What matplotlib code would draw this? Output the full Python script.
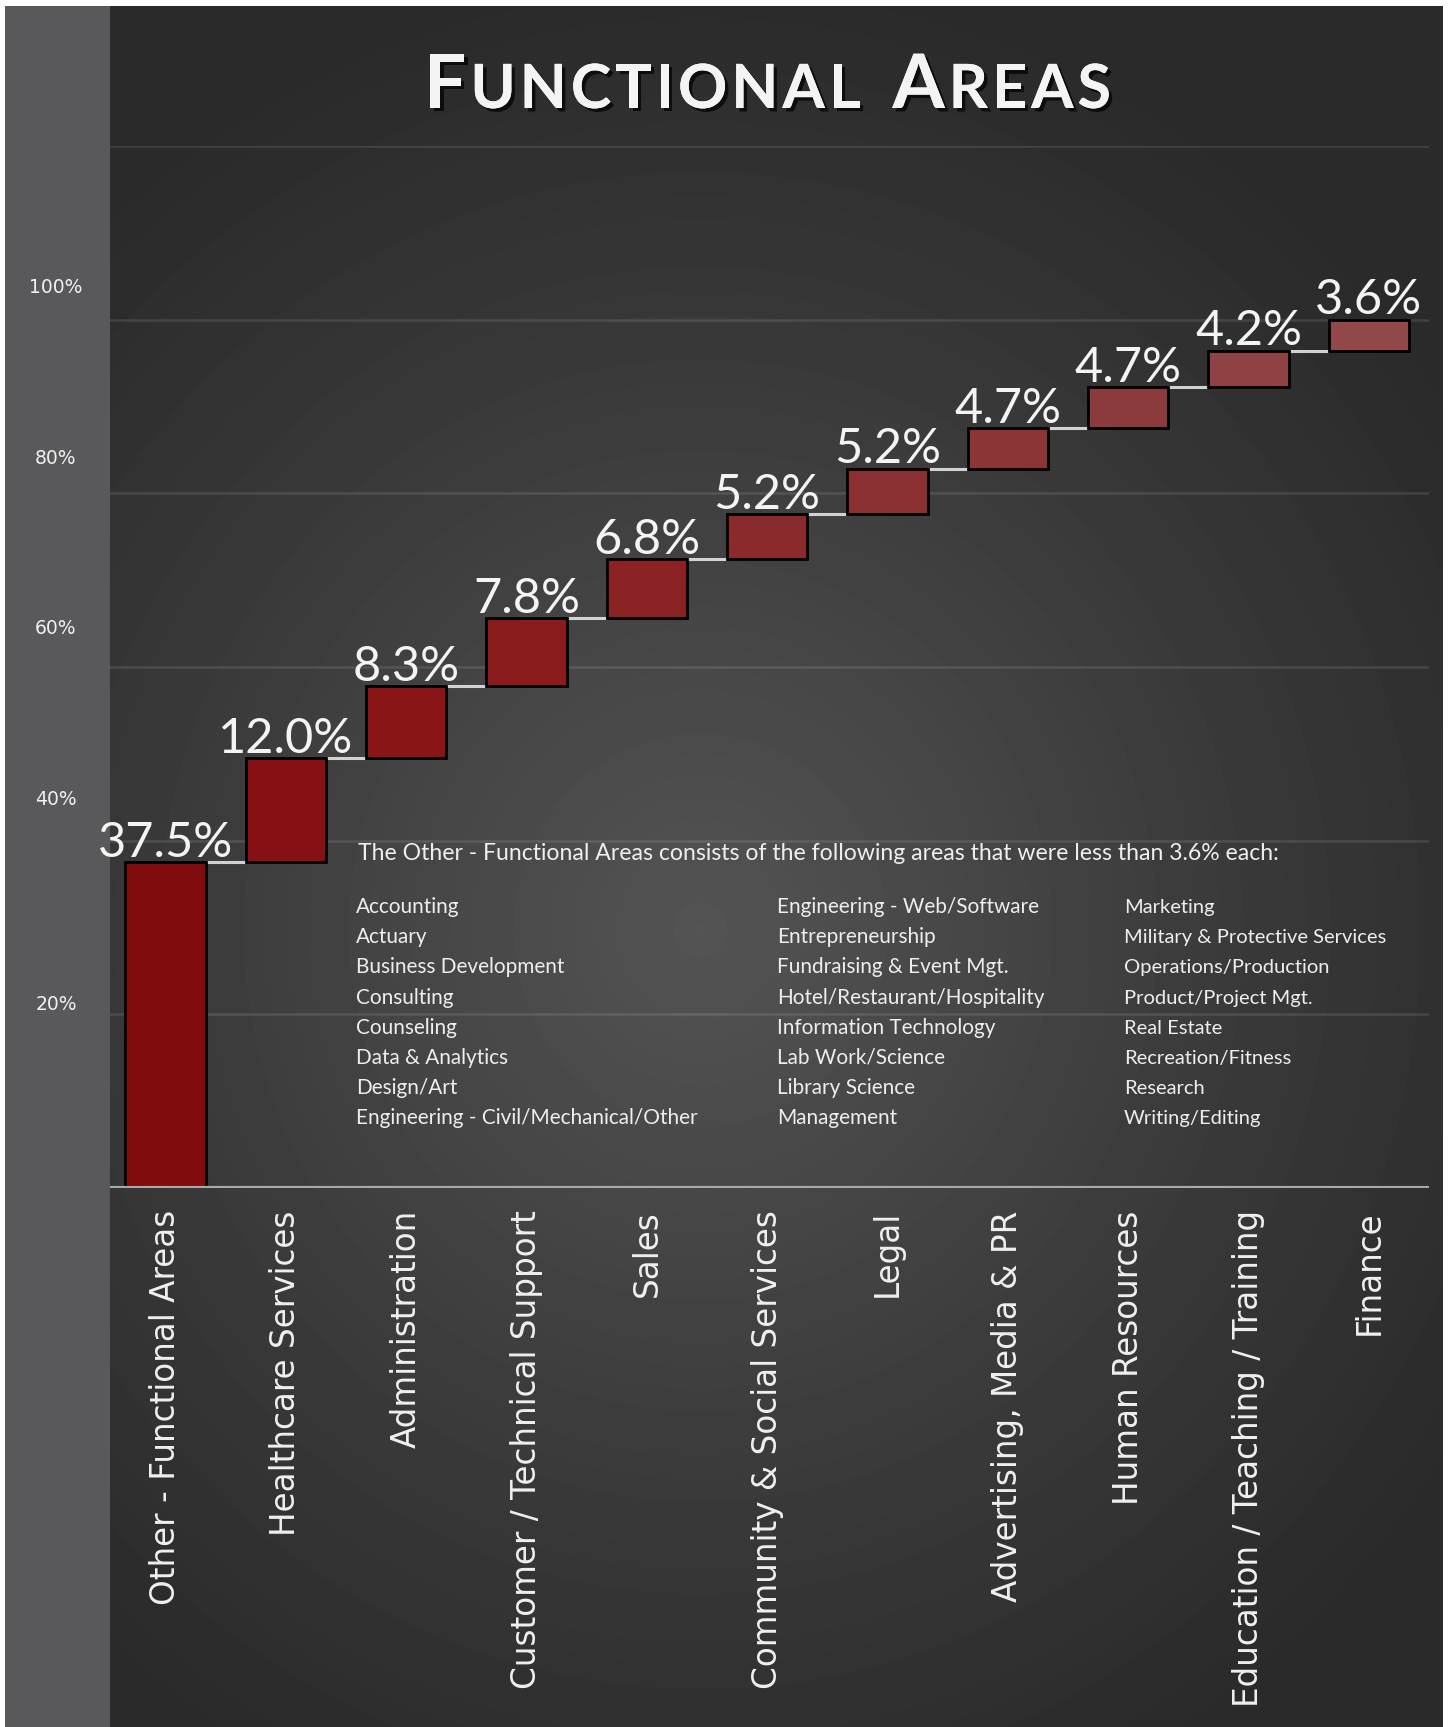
import matplotlib
matplotlib.use("Agg")
import matplotlib.pyplot as plt
import matplotlib.patheffects as pe
from matplotlib.patches import Rectangle
from matplotlib.transforms import blended_transform_factory
import numpy as np

# data
categories = ['Other - Functional Areas', 'Healthcare Services', 'Administration',
              'Customer / Technical Support', 'Sales', 'Community & Social Services',
              'Legal', 'Advertising, Media & PR', 'Human Resources',
              'Education / Teaching / Training', 'Finance']
shares = [37.5, 12.0, 8.3, 7.8, 6.8, 5.2, 5.2, 4.7, 4.7, 4.2, 3.6]
y_ticks = [20, 40, 60, 80, 100]
y_tick_labels = ['20%', '40%', '60%', '80%', '100%']

note_header = 'The Other - Functional Areas consists of the following areas that were less than 3.6% each:'
other_col1 = ['Accounting', 'Actuary', 'Business Development', 'Consulting', 'Counseling',
              'Data & Analytics', 'Design/Art', 'Engineering - Civil/Mechanical/Other']
other_col2 = ['Engineering - Web/Software', 'Entrepreneurship', 'Fundraising & Event Mgt.',
              'Hotel/Restaurant/Hospitality', 'Information Technology', 'Lab Work/Science',
              'Library Science', 'Management']
other_col3 = ['Marketing', 'Military & Protective Services', 'Operations/Production',
              'Product/Project Mgt.', 'Real Estate', 'Recreation/Fitness', 'Research',
              'Writing/Editing']

bar_colors = ['#800c0e', '#861013', '#8a1517', '#8a1b1d', '#8a2123', '#8a2a2c',
              '#8b3032', '#8b3537', '#8c3b3d', '#8f4244', '#914849']

W, H = 1449, 1727
THIN = ['Lato', 'DejaVu Sans']
WIDE = ['DejaVu Sans']

fig = plt.figure(figsize=(W / 100, H / 100), dpi=100, facecolor='white')
renderer = fig.canvas.get_renderer()


def fit_width(texts, target_px):
    # scale a group of texts so that the widest one spans target_px
    widest = max(t.get_window_extent(renderer).width for t in texts)
    for t in texts:
        t.set_fontsize(t.get_fontsize() * target_px / widest)


# background with a soft radial light
bg = fig.add_axes([0, 0, 1, 1], zorder=-10)
bg.set_xlim(0, W)
bg.set_ylim(H, 0)
bg.axis('off')
yy, xx = np.mgrid[6:H, 5:1443]
r = np.hypot(xx - 700, (yy - 930) * 0.95)
val = (42 + 42 * np.clip(1 - r / 920, 0, 1) ** 1.1) / 255
bg.imshow(val, cmap='gray', vmin=0, vmax=1, extent=(5, 1443, H, 6), aspect='auto',
          interpolation='bilinear')
bg.add_patch(Rectangle((5, 6), 105, H - 6, facecolor='#59595b', edgecolor='none'))

# main axes
left, right = 110 / W, 1429 / W
bottom, top = 1 - 1188 / H, 1 - 146 / H
ax = fig.add_axes([left, bottom, right - left, top - bottom])
ax.patch.set_alpha(0)
ax.set_xlim(-0.462, 10.5)
ax.set_ylim(0, 120)
for s in ax.spines.values():
    s.set_visible(False)

for g in [20, 40, 60, 80, 100, 120]:
    ax.axhline(g, color='white', alpha=0.11, lw=1.8, zorder=0)

x = np.arange(len(categories))
cum = np.cumsum(shares)
bottoms = cum - np.array(shares)
width = 0.668
ax.bar(x, shares, bottom=bottoms, width=width, color=bar_colors,
       edgecolor='black', linewidth=2, zorder=3)
ax.hlines(cum[:-1], x[:-1] + width / 2, x[1:] - width / 2, color='#d2d2d2', lw=2.2, zorder=2)
ax.axhline(0, color='#a9a9a9', lw=3, zorder=4)

for xi, top_val, s in zip(x, cum, shares):
    ax.annotate(f'{s:.1f}%', (xi, top_val), xytext=(0, 4), textcoords='offset points',
                ha='center', va='baseline', fontsize=35, color='#f4f4f4', family=THIN)

ax.set_xticks(x)
ax.set_xticklabels(categories, rotation=90, fontsize=23.5, color='#f0f0f0', family=WIDE)
ax.tick_params(axis='x', length=0, pad=16)
ax.set_yticks([])

# y labels sit in the grey side panel
ytr = blended_transform_factory(fig.transFigure, ax.transData)
label_lift = [10, 41, 38, 35, 32]
for v, lab, lift in zip(y_ticks, y_tick_labels, label_lift):
    ax.annotate(lab, (56 / W, v), xycoords=ytr, xytext=(0, lift * 0.72),
                textcoords='offset points', ha='center', va='center',
                fontsize=13.5, color='#f0f0f0', family=WIDE, annotation_clip=False)

# note about the "other" group
hdr = fig.text(358 / W, 1 - 860 / H, note_header, fontsize=18, color='#eeeeee',
               family=THIN, va='baseline')
fit_width([hdr], 916)
for col_x, items, span in [(356, other_col1, 342), (777, other_col2, 268),
                           (1124, other_col3, 263)]:
    col = [fig.text(col_x / W, 1 - (913 + 30.2 * i) / H, item, fontsize=17,
                    color='#eeeeee', family=THIN, va='baseline')
           for i, item in enumerate(items)]
    fit_width(col, span)

# small-caps title, placed letter by letter and spread to the reference span
title_parts = [('F', 64), ('UNCTIONAL', 52), (' ', 0), ('A', 64), ('REAS', 52)]
shadow = [pe.withSimplePatchShadow(offset=(2.5, -2.5), shadow_rgbFace='black', alpha=0.7),
          pe.Normal()]
base_y = 1 - 108 / H
letters = []
space_after = []
for chunk, size in title_parts:
    if chunk == ' ':
        space_after[-1] = True
        continue
    for ch in chunk:
        t = fig.text(0, base_y, ch, fontsize=size, fontweight='bold', color='#f4f4f4',
                     family=THIN, va='baseline', ha='left', path_effects=shadow)
        letters.append(t)
        space_after.append(False)

t_left, t_right = 424, 1111
widths = [t.get_window_extent(renderer).width for t in letters]
n_gaps = len(letters) - 1
space_units = 8  # a word gap counts as this many letter gaps
min_gap = 4
gap = (t_right - t_left - sum(widths)) / (n_gaps + space_units - 1)
if gap < min_gap:
    scale = (t_right - t_left - min_gap * (n_gaps + space_units - 1)) / sum(widths)
    for t in letters:
        t.set_fontsize(t.get_fontsize() * scale)
    widths = [w * scale for w in widths]
    gap = min_gap
pos = t_left
for t, w, sp in zip(letters, widths, space_after):
    t.set_x(pos / W)
    pos += w + gap * (space_units if sp else 1)

fig.savefig('out.png', dpi=100, facecolor='white')
